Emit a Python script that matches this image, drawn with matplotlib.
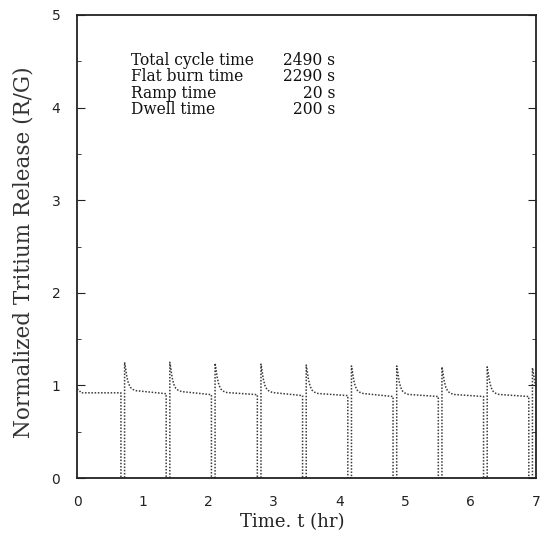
import matplotlib
matplotlib.use("Agg")
import matplotlib.pyplot as plt
import numpy as np

# start of the record (t in hr, normalized release)
start_t = [0.0, 0.03, 0.06, 0.10]
start_v = [0.96, 0.95, 0.92, 0.92]

# one entry per burn cycle: time the dwell starts, level just before, spike peak
drop_times = [0.67, 1.36, 2.05, 2.75, 3.44, 4.13, 4.82, 5.51, 6.20, 6.89]
flat_levels = [0.92, 0.91, 0.90, 0.90, 0.89, 0.89, 0.88, 0.88, 0.88, 0.88]
peak_levels = [1.25, 1.25, 1.24, 1.23, 1.22, 1.21, 1.21, 1.20, 1.20, 1.19]
dwell_hr = 200 / 3600.0

# spike decay after restart: dt (hr) and fraction of excess
decay_dt = [0.0, 0.015, 0.035, 0.06, 0.09, 0.13, 0.18]
decay_frac = [1.0, 0.80, 0.50, 0.28, 0.15, 0.08, 0.04]

notes = [("Total cycle time", "2490 s"),
         ("Flat burn time", "2290 s"),
         ("Ramp time", "20 s"),
         ("Dwell time", "200 s")]


def build_curve():
    t = list(start_t)
    v = list(start_v)
    for i, (td, lvl, pk) in enumerate(zip(drop_times, flat_levels, peak_levels)):
        t += [td, td, td + dwell_hr, td + dwell_hr]
        v += [lvl, 0.0, 0.0, pk]
        if td + dwell_hr > 6.95:
            break
        base = lvl + 0.01
        for dt, f in zip(decay_dt[1:], decay_frac[1:]):
            t.append(td + dwell_hr + dt)
            v.append(base + (pk - base) * f)
    return np.array(t), np.array(v)


fig = plt.figure(figsize=(5.45, 5.35), dpi=100)
ax = fig.add_axes([0.1413, 0.1065, 0.8422, 0.8655])

t, v = build_curve()
ax.plot(t, v, color="#3a3a3a", lw=1.1, ls=(0, (1, 1.1)))

ax.set_xlim(0, 7)
ax.set_ylim(0, 5)
ax.set_xticks(range(0, 8))
ax.set_yticks(range(0, 6))
ax.set_yticks(np.arange(0.5, 5, 1.0), minor=True)
ax.tick_params(axis="y", which="both", direction="in", right=True,
               labelsize=10, pad=12, colors="#222222")
ax.tick_params(axis="y", which="major", length=6)
ax.tick_params(axis="y", which="minor", length=3)
ax.tick_params(axis="x", direction="in", length=0, labelsize=10, pad=12,
               colors="#222222")
for s in ax.spines.values():
    s.set_linewidth(1.3)
    s.set_color("#222222")

ax.set_xlabel("Time. t (hr)", family="DejaVu Serif", fontsize=13,
              color="#222222")
ax.xaxis.set_label_coords(0.47, -0.075)
ax.set_ylabel("Normalized Tritium Release (R/G)", family="DejaVu Serif",
              fontsize=15.5, color="#333333")
ax.yaxis.set_label_coords(-0.092, 0.488)

y0 = 0.902
for k, (name, val) in enumerate(notes):
    yy = y0 - k * 0.0355
    ax.text(0.118, yy, name, transform=ax.transAxes, family="DejaVu Serif",
            fontsize=11.2, color="#111111", va="center", ha="left")
    ax.text(0.562, yy, val, transform=ax.transAxes, family="DejaVu Serif",
            fontsize=11.2, color="#111111", va="center", ha="right")

fig.savefig("out.png", dpi=100)
